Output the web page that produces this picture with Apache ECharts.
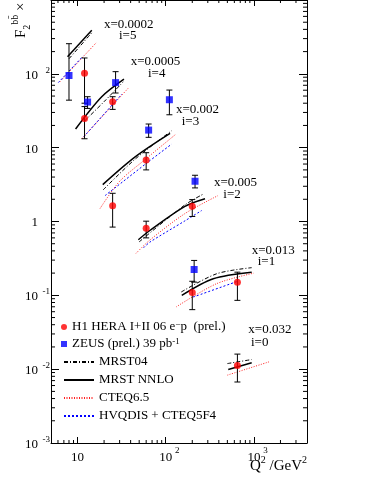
<!DOCTYPE html>
<html>
<head>
<meta charset="utf-8">
<script src="https://cdn.jsdelivr.net/npm/echarts@6/dist/echarts.min.js"></script>
<style>
  html, body { margin: 0; padding: 0; background: #fff; }
  #chart { width: 369px; height: 477px; }
</style>
</head>
<body>
<div id="chart"></div>
<script>
// bins from top to bottom, plotted as F2bb x 8^i
const binLabels = ['x=0.0002', 'x=0.0005', 'x=0.002', 'x=0.005', 'x=0.013', 'x=0.032'];
const binIndex = ['i=5', 'i=4', 'i=3', 'i=2', 'i=1', 'i=0'];

// H1 points: Q2, value, lower / upper end of the total error
const h1Q2 = [12, 12, 25, 25, 60, 60, 200, 200, 650, 650];
const h1Val = [102, 24.9, 41.9, 1.64, 6.8, 0.81, 1.61, 0.109, 0.150, 0.0112];
const h1Lo = [40, 13.2, 33, 0.84, 5.0, 0.60, 1.17, 0.064, 0.0855, 0.0067];
const h1Hi = [164, 36, 49, 2.41, 8.55, 1.01, 1.98, 0.155, 0.206, 0.0160];

// ZEUS points
const zeusQ2 = [8, 13, 27, 64, 110, 215, 210];
const zeusVal = [95, 41.5, 76, 17.3, 44.6, 3.51, 0.224];
const zeusLo = [44, 34, 55, 13.8, 27.9, 2.85, 0.151];
const zeusHi = [256, 49, 107, 20.9, 60.3, 4.23, 0.297];

// theory curves, one [Q2, value] list per bin
const mrst04 = [
  [[8, 160], [14.5, 360]],
  [[12, 23], [20, 42], [33, 78]],
  [[19.5, 2.68], [45, 7.0], [117, 17.0]],
  [[50, 0.53], [165, 1.68], [270, 2.37]],
  [[150, 0.111], [378, 0.196], [944, 0.237]],
  [[500, 0.0119], [944, 0.0135]]
];
const mrstNnlo = [
  [[7.7, 170], [14.5, 389]],
  [[9.5, 17.9], [18.8, 48.9], [33.6, 84.7]],
  [[19.3, 3.16], [45, 7.5], [112, 15.6]],
  [[48.9, 0.566], [66, 0.755], [165, 1.60], [279, 2.03]],
  [[152, 0.1], [346, 0.168], [944, 0.206]],
  [[512, 0.0099], [944, 0.0122]]
];
const cteq65 = [
  [[6.3, 78], [16.2, 262]],
  [[11.1, 13.1], [37.6, 64]],
  [[18, 1.5], [30, 3.5], [60, 7.1], [131, 15.3]],
  [[46, 0.37], [66, 0.56], [165, 1.28], [391, 2.24]],
  [[131, 0.0695], [378, 0.144], [1000, 0.2]],
  [[500, 0.0083], [1483, 0.01256]]
];
const hvqdis = [
  [[6.05, 76], [11.6, 175]],
  [[11.8, 14.1], [31.7, 53]],
  [[20.5, 2.24], [60, 6.1], [117, 11.2]],
  [[56, 0.44], [66, 0.525], [165, 1.02], [256, 1.41]],
  [[205, 0.0948], [665, 0.156]]
];

const xMin = 5, xMax = 4000, yMin = 1e-3, yMax = 1e3;
const font = 'Liberation Serif';
const h1Name = 'H1 HERA I+II 06 e-p (prel.)';
const zeusName = 'ZEUS (prel.) 39 pb-1';

// minor tick values (2..9 per decade)
const xMinor = [], yMinor = [];
for (let e = 0; e <= 3; e++) for (let m = 2; m <= 9; m++) {
  const v = m * Math.pow(10, e);
  if (v > xMin && v < xMax) xMinor.push([v, 1]);
}
for (let e = -3; e <= 2; e++) for (let m = 2; m <= 9; m++) {
  yMinor.push([10, m * Math.pow(10, e)]);
}

const chart = echarts.init(document.getElementById('chart'));

const tickStyle = { stroke: '#000', lineWidth: 1 };

function renderErr(params, api) {
  const lo = api.coord([api.value(0), api.value(1)]);
  const hi = api.coord([api.value(0), api.value(2)]);
  return {
    type: 'group',
    children: [
      { type: 'line', shape: { x1: lo[0], y1: lo[1], x2: hi[0], y2: hi[1] }, style: tickStyle },
      { type: 'line', shape: { x1: lo[0] - 3, y1: lo[1], x2: lo[0] + 3, y2: lo[1] }, style: tickStyle },
      { type: 'line', shape: { x1: hi[0] - 3, y1: hi[1], x2: hi[0] + 3, y2: hi[1] }, style: tickStyle }
    ]
  };
}

function renderXMinor(params, api) {
  const b = api.coord([api.value(0), yMin]);
  const t = api.coord([api.value(0), yMax]);
  return {
    type: 'group',
    children: [
      { type: 'line', shape: { x1: b[0], y1: b[1], x2: b[0], y2: b[1] - 3 }, style: tickStyle },
      { type: 'line', shape: { x1: t[0], y1: t[1], x2: t[0], y2: t[1] + 3 }, style: tickStyle }
    ]
  };
}

function renderYMinor(params, api) {
  const l = api.coord([xMin, api.value(1)]);
  const r = api.coord([xMax, api.value(1)]);
  return {
    type: 'group',
    children: [
      { type: 'line', shape: { x1: l[0], y1: l[1], x2: l[0] + 4, y2: l[1] }, style: tickStyle },
      { type: 'line', shape: { x1: r[0], y1: r[1], x2: r[0] - 4, y2: r[1] }, style: tickStyle }
    ]
  };
}

function curveSeries(name, curves, lineStyle) {
  return curves.map(pts => ({
    type: 'line',
    name: name,
    data: pts,
    symbol: 'none',
    smooth: 0.3,
    silent: true,
    z: 2,
    lineStyle: lineStyle
  }));
}

function xLabel(v) {
  const lg = Math.log10(v), e = Math.round(lg);
  if (Math.abs(lg - e) > 1e-6) return '';
  if (e === 1) return '{b|10}';
  return '{e| }{b|10}{s|' + e + '}';
}

function yLabel(v) {
  const lg = Math.log10(v), e = Math.round(lg);
  if (Math.abs(lg - e) > 1e-6 || e >= 3) return '';
  if (e === 0) return '{b|1}{e| }';
  if (e === 1) return '{b|10}{e| }';
  return '{b|10}{s|' + e + '}';
}

const axisLine = { show: true, onZero: false, lineStyle: { color: '#000', width: 1 } };

const xAxisBase = {
  type: 'log', logBase: 10, min: xMin, max: xMax,
  axisLine: axisLine,
  axisTick: { show: true, inside: true, length: 6, lineStyle: { color: '#000' } },
  splitLine: { show: false }
};
const yAxisBase = {
  type: 'log', logBase: 10, min: yMin, max: yMax,
  axisLine: axisLine,
  axisTick: { show: true, inside: true, length: 8, lineStyle: { color: '#000' } },
  splitLine: { show: false }
};

const binLabelPos = [
  [104, 25, 119, 36],
  [130.7, 62, 148, 74],
  [176, 110, 181.7, 122],
  [214, 182.3, 223.3, 194.3],
  [251.7, 251, 257.7, 261.7],
  [248.3, 330, 251, 342.3]
];
const graphics = [];
binLabels.forEach((t, k) => {
  const p = binLabelPos[k];
  graphics.push({ type: 'text', x: p[0], y: p[1], style: { text: t, fontSize: 13, fontFamily: font, fill: '#000', align: 'left', verticalAlign: 'middle' } });
  graphics.push({ type: 'text', x: p[2], y: p[3], style: { text: binIndex[k], fontSize: 13, fontFamily: font, fill: '#000', align: 'left', verticalAlign: 'middle' } });
});
// y axis title, rotated
graphics.push({
  type: 'text', x: 21, y: 38, rotation: Math.PI / 2,
  style: {
    text: 'F{sub|2}{sup|bb\u0304} \u00d7 8{sup|i}',
    fontSize: 15, fontFamily: font, fill: '#000', align: 'left', verticalAlign: 'middle',
    rich: {
      sub: { fontSize: 10, fontFamily: font, verticalAlign: 'bottom', lineHeight: 22 },
      sup: { fontSize: 10, fontFamily: font, verticalAlign: 'top', lineHeight: 22 }
    }
  }
});
// x axis title
graphics.push({
  type: 'text', x: 307, y: 466,
  style: {
    text: 'Q{s|2} /GeV{s|2}',
    fontSize: 15, fontFamily: font, fill: '#000', align: 'right', verticalAlign: 'middle',
    rich: {
      s: { fontSize: 10, fontFamily: font, verticalAlign: 'top', lineHeight: 22 }
    }
  }
});

const legendText = { fontFamily: font, fontSize: 13, color: '#000', lineHeight: 14 };

const option = {
  animation: false,
  backgroundColor: '#fff',
  grid: { left: 51, top: -1, width: 256, height: 444 },
  xAxis: [
    Object.assign({}, xAxisBase, {
      position: 'bottom',
      axisLabel: {
        margin: 3, formatter: xLabel,
        rich: {
          b: { fontFamily: font, fontSize: 13, color: '#000', lineHeight: 18, verticalAlign: 'bottom' },
          s: { fontFamily: font, fontSize: 9, color: '#000', lineHeight: 18, verticalAlign: 'top', width: 6, padding: [0, 0, 0, 2] },
          e: { fontSize: 9, width: 8 }
        }
      }
    }),
    Object.assign({}, xAxisBase, { position: 'top', axisLabel: { show: false } })
  ],
  yAxis: [
    Object.assign({}, yAxisBase, {
      position: 'left',
      axisLabel: {
        margin: 1, formatter: yLabel,
        rich: {
          b: { fontFamily: font, fontSize: 13, color: '#000', lineHeight: 16, verticalAlign: 'bottom' },
          s: { fontFamily: font, fontSize: 9, color: '#000', lineHeight: 16, verticalAlign: 'top', width: 9, padding: [0, 0, 0, 3] },
          e: { fontSize: 9, width: 12 }
        }
      }
    }),
    Object.assign({}, yAxisBase, { position: 'right', axisLabel: { show: false } })
  ],
  legend: [
    {
      data: [h1Name, zeusName],
      orient: 'vertical', left: 61, top: 320, padding: 0,
      itemWidth: 6, itemHeight: 6, itemGap: 3,
      selectedMode: false,
      formatter: n => n === h1Name ? 'H1 HERA I+II 06 e{sup|\u2212}p  (prel.)' : 'ZEUS (prel.) 39 pb{sup|-1}',
      textStyle: Object.assign({}, legendText, {
        rich: {
          sup: { fontFamily: font, fontSize: 9, color: '#000', verticalAlign: 'top', lineHeight: 14 }
        }
      })
    },
    {
      data: ['MRST04', 'MRST NNLO', 'CTEQ6.5', 'HVQDIS + CTEQ5F4'],
      orient: 'vertical', left: 63, top: 355, padding: 0,
      itemWidth: 30, itemHeight: 10, itemGap: 4,
      selectedMode: false,
      itemStyle: { opacity: 0 },
      textStyle: legendText
    }
  ],
  graphic: graphics,
  series: [].concat(
    curveSeries('MRST04', mrst04, { color: '#000', width: 1, type: [4, 2, 1, 2] }),
    curveSeries('MRST NNLO', mrstNnlo, { color: '#000', width: 1.5, type: 'solid' }),
    curveSeries('CTEQ6.5', cteq65, { color: '#ff2020', width: 1, type: [1, 1.5] }),
    curveSeries('HVQDIS + CTEQ5F4', hvqdis, { color: '#0000ff', width: 1, type: [2, 2] }),
    [
      {
        type: 'custom', name: 'h1err', renderItem: renderErr, z: 3, silent: true,
        encode: { x: 0, y: [1, 2] },
        data: h1Q2.map((q, k) => [q, h1Lo[k], h1Hi[k]])
      },
      {
        type: 'custom', name: 'zeuserr', renderItem: renderErr, z: 3, silent: true,
        encode: { x: 0, y: [1, 2] },
        data: zeusQ2.map((q, k) => [q, zeusLo[k], zeusHi[k]])
      },
      {
        type: 'scatter', name: h1Name, symbol: 'circle', symbolSize: 7, z: 4,
        itemStyle: { color: '#ff0000' },
        data: h1Q2.map((q, k) => [q, h1Val[k]])
      },
      {
        type: 'scatter', name: zeusName, symbol: 'rect', symbolSize: 7, z: 4,
        itemStyle: { color: '#0000ff' },
        data: zeusQ2.map((q, k) => [q, zeusVal[k]])
      },
      { type: 'custom', name: 'xminor', renderItem: renderXMinor, silent: true, z: 1, data: xMinor },
      { type: 'custom', name: 'yminor', renderItem: renderYMinor, silent: true, z: 1, data: yMinor }
    ]
  )
};

chart.setOption(option);
</script>
</body>
</html>
